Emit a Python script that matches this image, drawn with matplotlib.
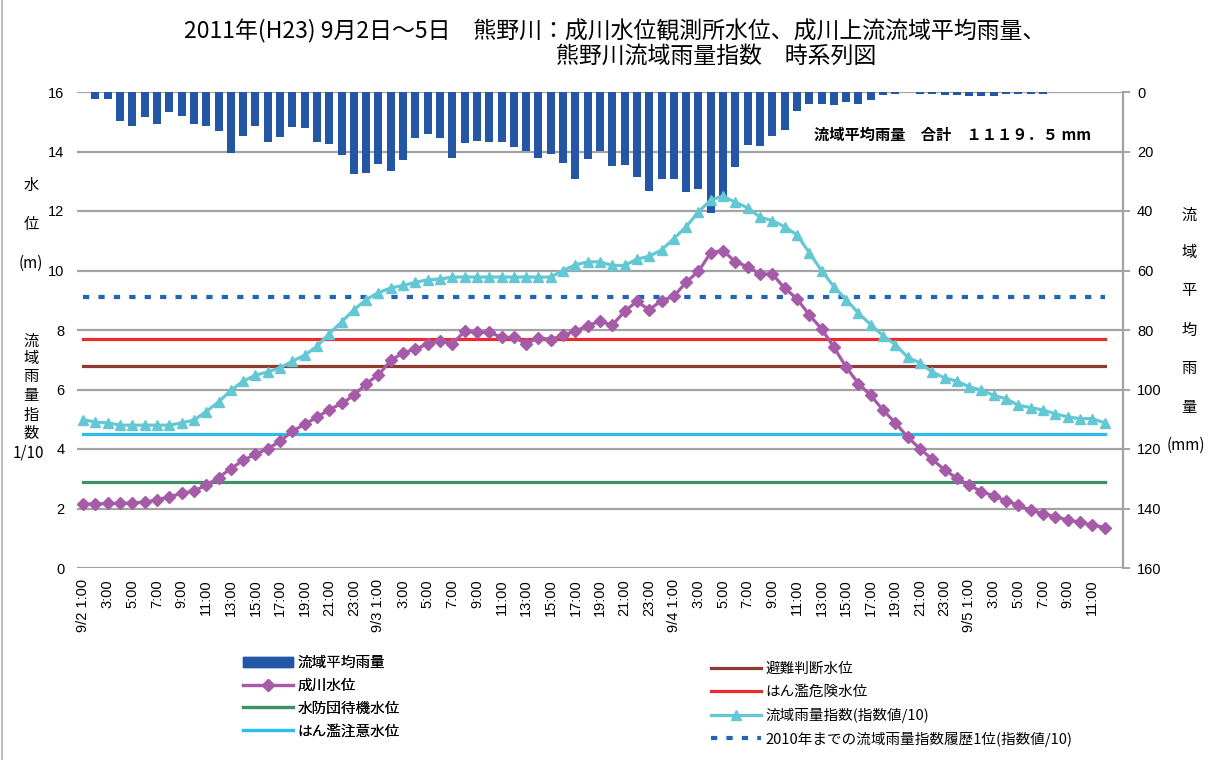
import numpy as np
import matplotlib
matplotlib.use("Agg")
import matplotlib.pyplot as plt
from matplotlib.lines import Line2D
from matplotlib.patches import Patch

plt.rcParams['font.family'] = ['Noto Sans CJK JP', 'DejaVu Sans']

# =========================
# データ (9/2 1:00 ～ 9/5 12:00, 1時間ごと)
# =========================
tick_labels = [
    "9/2 1:00", "3:00", "5:00", "7:00", "9:00", "11:00", "13:00", "15:00", "17:00", "19:00", "21:00", "23:00",
    "9/3 1:00", "3:00", "5:00", "7:00", "9:00", "11:00", "13:00", "15:00", "17:00", "19:00", "21:00", "23:00",
    "9/4 1:00", "3:00", "5:00", "7:00", "9:00", "11:00", "13:00", "15:00", "17:00", "19:00", "21:00", "23:00",
    "9/5 1:00", "3:00", "5:00", "7:00", "9:00", "11:00",
]

# 流域平均雨量 (mm)
rain = [0.0, 2.5, 2.5, 9.7, 11.3, 8.3, 10.7, 6.6, 8.0, 10.7,
        11.3, 13.0, 20.4, 14.7, 11.3, 16.7, 15.1, 11.7, 12.0, 16.7,
        17.4, 21.1, 27.5, 27.2, 24.2, 26.5, 22.8, 15.4, 14.0, 15.4,
        22.1, 17.1, 16.4, 16.7, 16.7, 18.4, 19.8, 22.1, 20.8, 23.8,
        29.2, 22.5, 19.8, 24.8, 24.5, 28.5, 33.3, 29.4, 29.2, 33.6,
        32.6, 40.7, 35.0, 25.2, 17.9, 18.2, 14.8, 12.8, 6.4, 4.0,
        4.0, 4.4, 3.4, 4.0, 2.7, 0.9, 0.6, 0.0, 0.6, 0.6,
        0.9, 0.9, 1.2, 1.2, 1.2, 0.6, 0.6, 0.6, 0.6, 0.0,
        0.0, 0.0, 0.0, 0.0]

# 成川水位 (m)
naru_level = [2.15, 2.15, 2.17, 2.17, 2.19, 2.21, 2.29, 2.39, 2.51, 2.59,
              2.78, 3.04, 3.34, 3.62, 3.82, 4.01, 4.26, 4.60, 4.83, 5.07,
              5.32, 5.53, 5.80, 6.20, 6.49, 6.98, 7.23, 7.36, 7.53, 7.64,
              7.53, 7.96, 7.92, 7.93, 7.75, 7.75, 7.54, 7.74, 7.68, 7.83,
              7.96, 8.15, 8.29, 8.16, 8.63, 8.96, 8.68, 8.99, 9.13, 9.61,
              9.97, 10.60, 10.67, 10.29, 10.13, 9.88, 9.88, 9.41, 9.05, 8.51,
              8.04, 7.43, 6.75, 6.20, 5.80, 5.31, 4.88, 4.40, 4.01, 3.65,
              3.30, 3.02, 2.78, 2.57, 2.42, 2.26, 2.11, 1.94, 1.83, 1.72,
              1.62, 1.53, 1.45, 1.36]

# 流域雨量指数 (指数値/10)
rain_index = [4.99, 4.90, 4.88, 4.80, 4.80, 4.80, 4.80, 4.80, 4.88, 4.97,
              5.26, 5.58, 5.97, 6.28, 6.48, 6.59, 6.73, 6.95, 7.15, 7.45,
              7.88, 8.27, 8.68, 9.02, 9.26, 9.41, 9.50, 9.60, 9.69, 9.71,
              9.78, 9.78, 9.78, 9.78, 9.78, 9.78, 9.78, 9.78, 9.78, 10.00,
              10.19, 10.29, 10.29, 10.17, 10.17, 10.38, 10.48, 10.69, 11.07, 11.47,
              11.97, 12.37, 12.50, 12.29, 12.11, 11.79, 11.68, 11.47, 11.20, 10.60,
              10.00, 9.46, 9.02, 8.57, 8.18, 7.81, 7.51, 7.09, 6.89, 6.59,
              6.39, 6.28, 6.09, 5.98, 5.80, 5.69, 5.47, 5.39, 5.31, 5.18,
              5.08, 5.02, 5.02, 4.88]

# 基準水位など
suibou_level = 2.9    # 水防団待機水位
chuui_level = 4.5     # はん濫注意水位
hinan_level = 6.8     # 避難判断水位
kiken_level = 7.7     # はん濫危険水位
rekidai_index = 9.1   # 2010年までの流域雨量指数履歴1位

# =========================
# 色
# =========================
c_bar = "#2356A5"
c_naru = "#A55BA8"
c_index = "#63C8D4"
c_rekidai = "#2066B5"
c_kiken = "#EE2B2B"
c_hinan = "#8C3B2E"
c_chuui = "#2BBDEE"
c_suibou = "#3E9166"
c_grid = "#A3A3A3"

W, H = 1208, 760
fig = plt.figure(figsize=(W / 100, H / 100), dpi=100)
fig.patch.set_facecolor("white")

rect = [77 / W, 1 - 568 / H, (1123 - 77) / W, (568 - 92) / H]
ax = fig.add_axes(rect)
axb = ax.twinx()
ax.set_zorder(2)
axb.set_zorder(1)
ax.patch.set_visible(False)

x = np.arange(len(naru_level))

# 雨量 (右軸、上から下へ)
axb.bar(x, rain, width=0.65, color=c_bar, zorder=2)
axb.set_ylim(160, 0)
axb.set_yticks(np.arange(0, 161, 20))
axb.yaxis.grid(True, color=c_grid, lw=1.6)
axb.set_axisbelow(True)

# 水位・指数 (左軸)
n = len(x)
ax.plot(x, np.full(n, suibou_level), color=c_suibou, lw=2.3)
ax.plot(x, np.full(n, chuui_level), color=c_chuui, lw=2.3)
ax.plot(x, np.full(n, hinan_level), color=c_hinan, lw=2.3)
ax.plot(x, np.full(n, kiken_level), color=c_kiken, lw=2.3)
ax.plot(x, np.full(n, rekidai_index), color=c_rekidai, lw=3, dashes=(1.5, 2.2))
ax.plot(x, rain_index, color=c_index, lw=2.3, marker="^", ms=7.5)
ax.plot(x, naru_level, color=c_naru, lw=2.3, marker="D", ms=6.3)

ax.set_ylim(0, 16)
ax.set_yticks(np.arange(0, 17, 2))
ax.set_xlim(-0.5, 84.5)
ax.set_xticks(x[::2][:len(tick_labels)])
ax.set_xticklabels(tick_labels, rotation=90, va="top", ha="center")

for a in (ax, axb):
    for s in a.spines.values():
        s.set_visible(False)
axb.spines["right"].set_visible(True)
axb.spines["right"].set_color(c_grid)
axb.spines["right"].set_linewidth(1.6)

ax.tick_params(axis="y", length=0, pad=9, labelsize=10.5)
ax.tick_params(axis="x", length=0, pad=8, labelsize=10.5)
axb.tick_params(axis="y", direction="out", length=5, width=1.4, color=c_grid, pad=5, labelsize=10.5)
for lbl in ax.get_xticklabels() + ax.get_yticklabels() + axb.get_yticklabels():
    lbl.set_family(["Liberation Sans", "DejaVu Sans"])

# =========================
# タイトル・注記
# =========================
fig.text(615 / W, 1 - 31 / H, "2011年(H23) 9月2日～5日　熊野川：成川水位観測所水位、成川上流流域平均雨量、",
         ha="center", va="center", fontsize=16.5)
fig.text(556 / W, 1 - 56 / H, "熊野川流域雨量指数　時系列図", ha="left", va="center", fontsize=16.5)
fig.text(814 / W, 1 - 135 / H, "流域平均雨量　合計　１１１９．５ mm", ha="left", va="center",
         fontsize=11, fontweight="bold")

# 左軸ラベル
for ch, yy in zip(["水", "位", "(m)"], [185, 224, 263]):
    fig.text(31 / W, 1 - yy / H, ch, ha="center", va="center", fontsize=11)
for ch, yy in zip(list("流域雨量指数"), [341, 359, 377, 396, 415, 433]):
    fig.text(31 / W, 1 - yy / H, ch, ha="center", va="center", fontsize=11)
fig.text(28 / W, 1 - 453 / H, "1/10", ha="center", va="center", fontsize=11)

# 右軸ラベル
for ch, yy in zip(list("流域平均雨量"), [215, 253, 291, 330, 369, 407]):
    fig.text(1189 / W, 1 - yy / H, ch, ha="center", va="center", fontsize=11)
fig.text(1186 / W, 1 - 445 / H, "(mm)", ha="center", va="center", fontsize=11)

# =========================
# 凡例
# =========================
h_left = [
    Patch(color=c_bar),
    Line2D([], [], color=c_naru, lw=2.3, marker="D", ms=6.3),
    Line2D([], [], color=c_suibou, lw=2.3),
    Line2D([], [], color=c_chuui, lw=2.3),
]
l_left = ["流域平均雨量", "成川水位", "水防団待機水位", "はん濫注意水位"]
h_right = [
    Line2D([], [], color=c_hinan, lw=2.3),
    Line2D([], [], color=c_kiken, lw=2.3),
    Line2D([], [], color=c_index, lw=2.3, marker="^", ms=7.5),
    Line2D([], [], color=c_rekidai, lw=3, dashes=(1.5, 2.2)),
]
l_right = ["避難判断水位", "はん濫危険水位", "流域雨量指数(指数値/10)", "2010年までの流域雨量指数履歴1位(指数値/10)"]

leg_kw = dict(loc="upper left", frameon=False, fontsize=10.5, handlelength=3.4, handletextpad=0.35,
              labelspacing=0.6, borderpad=0, borderaxespad=0, numpoints=1)
leg1 = fig.legend(h_left, l_left, bbox_to_anchor=(243 / W, 1 - 656 / H), **leg_kw)
leg2 = fig.legend(h_right, l_right, bbox_to_anchor=(711 / W, 1 - 662 / H), **leg_kw)
fig.add_artist(leg1)

# 左の枠線
fig.add_artist(Line2D([2 / W, 2 / W], [0, 1], color="#B0B0B0", lw=1.2))

fig.savefig("out.png", dpi=100)
